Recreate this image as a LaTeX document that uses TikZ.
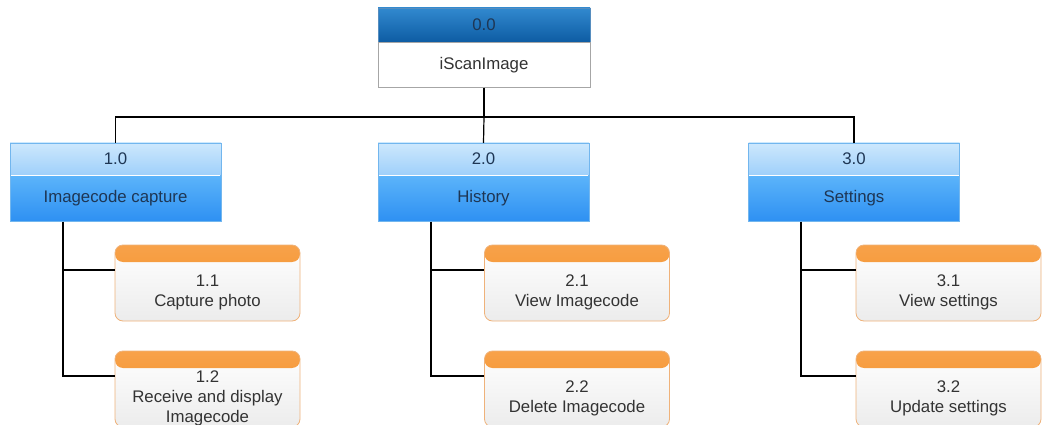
\documentclass[tikz,border=0pt]{standalone}
\usepackage{fontspec}
\setmainfont{Liberation Sans}
\definecolor{topdark}{HTML}{0E5CA3}
\definecolor{toplight}{HTML}{3189CF}
\definecolor{headlight}{HTML}{CDE8FD}
\definecolor{headdark}{HTML}{9FD0FA}
\definecolor{bodylight}{HTML}{5CB4FA}
\definecolor{bodydark}{HTML}{2E90F2}
\definecolor{blueline}{HTML}{72B6EE}
\definecolor{orangelight}{HTML}{F8A24A}
\definecolor{orangedark}{HTML}{F08A1E}
\definecolor{orangeline}{HTML}{EFB27A}
\definecolor{navytext}{HTML}{1E3654}
\definecolor{greytext}{HTML}{333333}
\begin{document}
\begin{tikzpicture}[x=1pt,y=-1pt]
      \tikzstyle{every node} = [font=\fontsize{16.8}{20}\selectfont, inner sep=0pt]
      \tikzstyle{roothead} = [rectangle, minimum width=212pt, minimum height=34pt, draw=topdark!70, top color=toplight, bottom color=topdark, text=navytext]
      \tikzstyle{rootbody} = [rectangle, minimum width=212pt, minimum height=45pt, draw=gray!70, fill=white, text=greytext]
      \tikzstyle{mainhead} = [rectangle, minimum width=211pt, minimum height=32pt, draw=blueline, top color=headlight, bottom color=headdark, text=navytext]
      \tikzstyle{mainbody} = [rectangle, minimum width=211pt, minimum height=46pt, draw=blueline, top color=bodylight, bottom color=bodydark, text=navytext]
      \tikzstyle{subbox} = [rectangle, rounded corners=8pt, minimum width=185pt, minimum height=76pt, align=center, draw=orangeline, thick, top color=white, bottom color=gray!15, text=greytext,
        path picture={\shade[top color=orangelight, bottom color=orangedark] (path picture bounding box.north west) rectangle ([yshift=-17pt]path picture bounding box.north east);}]
      \tikzstyle{link} = [line width=1.2pt, black]

      \useasboundingbox (0,0) rectangle (1045,425);

      % root
      \node (rooth) [roothead] at (484,25) {0.0};
      \node (root) [rootbody, anchor=north] at (rooth.south) {iScanImage};

      % main functions
      \node (caph) [mainhead] at (115.5,159) {1.0};
      \node (cap) [mainbody, anchor=north] at (caph.south) {Imagecode capture};
      \node (histh) [mainhead] at (483.5,159) {2.0};
      \node (hist) [mainbody, anchor=north] at (histh.south) {History};
      \node (seth) [mainhead] at (854,159) {3.0};
      \node (set) [mainbody, anchor=north] at (seth.south) {Settings};
      \draw [white, line width=1pt] ([xshift=1pt]cap.north west) -- ([xshift=-1pt]cap.north east);
      \draw [white, line width=1pt] ([xshift=1pt]hist.north west) -- ([xshift=-1pt]hist.north east);
      \draw [white, line width=1pt] ([xshift=1pt]set.north west) -- ([xshift=-1pt]set.north east);

      % sub functions
      \node (cap1) [subbox] at (207.5,283) {\rule{0pt}{31pt}1.1\\Capture photo};
      \node (cap2) [subbox] at (207.5,389) {\rule{0pt}{31pt}1.2\\Receive and display\\Imagecode};
      \node (hist1) [subbox] at (577,283) {\rule{0pt}{31pt}2.1\\View Imagecode};
      \node (hist2) [subbox] at (577,389) {\rule{0pt}{31pt}2.2\\Delete Imagecode};
      \node (set1) [subbox] at (948.5,283) {\rule{0pt}{31pt}3.1\\View settings};
      \node (set2) [subbox] at (948.5,389) {\rule{0pt}{31pt}3.2\\Update settings};

      % tree lines
      \coordinate (bus) at (484,117);
      \draw [link] (root.south) -- (bus);
      \draw [link] (caph.north) |- (bus) -| (seth.north);
      \draw [link] (bus) -- (histh.north);

      \draw [link] ([xshift=-52.5pt]cap.south) |- ([yshift=13pt]cap2.west);
      \draw [link] ([xshift=-52.5pt]cap.south |- 0,270) -- ([yshift=13pt]cap1.west);
      \draw [link] ([xshift=-52.5pt]hist.south) |- ([yshift=13pt]hist2.west);
      \draw [link] ([xshift=-52.5pt]hist.south |- 0,270) -- ([yshift=13pt]hist1.west);
      \draw [link] ([xshift=-53pt]set.south) |- ([yshift=13pt]set2.west);
      \draw [link] ([xshift=-53pt]set.south |- 0,270) -- ([yshift=13pt]set1.west);
\end{tikzpicture}
\end{document}
